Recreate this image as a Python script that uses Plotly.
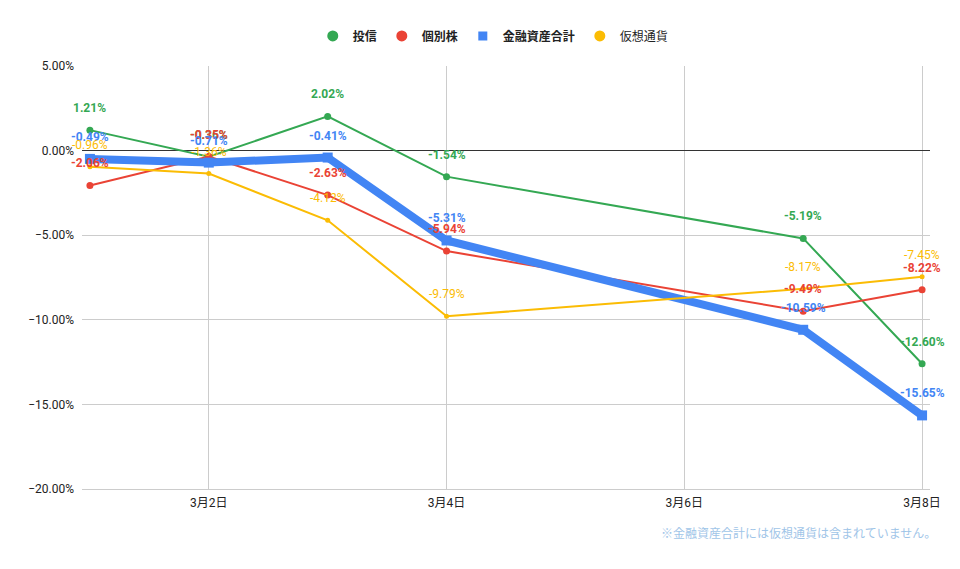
import plotly.graph_objects as go

dates = ["2022-03-01", "2022-03-02", "2022-03-03", "2022-03-04", "2022-03-07", "2022-03-08"]

toshin = [1.21, -0.36, 2.02, -1.54, -5.19, -12.60]
kobetsu = [-2.06, -0.35, -2.63, -5.94, -9.49, -8.22]
total = [-0.49, -0.71, -0.41, -5.31, -10.59, -15.65]
crypto = [-0.96, -1.36, -4.12, -9.79, -8.17, -7.45]

tick_dates = ["2022-03-02", "2022-03-04", "2022-03-06", "2022-03-08"]
tick_labels = ["3月2日", "3月4日", "3月6日", "3月8日"]

font = "Roboto, 'Noto Sans CJK JP', sans-serif"

series = [
	# name, values, colour, line width, marker symbol, marker size, bold
	("投信", toshin, "#34a853", 2, "circle", 7, True),
	("個別株", kobetsu, "#ea4335", 2, "circle", 7, True),
	("金融資産合計", total, "#4285f4", 8, "square", 10, True),
	("仮想通貨", crypto, "#fbbc04", 2, "circle", 5, False),
]

fig = go.Figure()

for name, vals, color, lw, sym, ms, bold in series:
	fig.add_trace(go.Scatter(
		x=dates, y=vals, mode="lines+markers", showlegend=False,
		line=dict(color=color, width=lw), marker=dict(size=ms, symbol=sym),
		hoverinfo="skip",
	))

# legend shows only the markers, like the original
for name, vals, color, lw, sym, ms, bold in series:
	fig.add_trace(go.Scatter(
		x=[None], y=[None], mode="markers", name=f"<b>{name}</b>" if bold else name,
		marker=dict(size=11 if sym == "circle" else 9, symbol=sym, color=color),
	))

# data labels
for name, vals, color, lw, sym, ms, bold in series:
	for d, v in zip(dates, vals):
		fig.add_annotation(
			x=d, y=v, text=f"{v:.2f}%", showarrow=False, yshift=22,
			font=dict(size=12, color=color, weight="bold" if bold else "normal"),
		)

fig.update_layout(
	width=960, height=569,
	margin=dict(l=74, r=38, t=58, b=88, autoexpand=False),
	plot_bgcolor="white", paper_bgcolor="white",
	font=dict(family=font, size=12, color="#222222"),
	legend=dict(orientation="h", x=0.485, xanchor="center", y=1.071, yanchor="middle",
		font=dict(size=12, color="#222222"), itemwidth=30),
)
fig.update_xaxes(
	type="date", range=["2022-02-28 22:24", "2022-03-08 01:36"],
	tickvals=tick_dates, ticktext=tick_labels,
	showgrid=True, gridcolor="#cccccc", gridwidth=1,
	showline=True, linecolor="#cccccc", ticks="", zeroline=False,
	tickfont=dict(size=12, color="#222222"), ticklabelstandoff=3,
)
fig.update_yaxes(
	range=[-20, 5], dtick=5, tickformat=".2f", ticksuffix="%",
	showgrid=True, gridcolor="#cccccc", gridwidth=1,
	zeroline=True, zerolinecolor="#333333", zerolinewidth=1,
	ticks="", tickfont=dict(size=12, color="#222222"), ticklabelstandoff=7,
)
fig.add_annotation(
	text="※金融資産合計には仮想通貨は含まれていません。",
	xref="paper", yref="paper", x=1, y=-0.106, xanchor="right", yanchor="middle",
	xshift=8, showarrow=False, font=dict(size=12, color="#9fc5e8"),
)

fig.write_html("out.html")
